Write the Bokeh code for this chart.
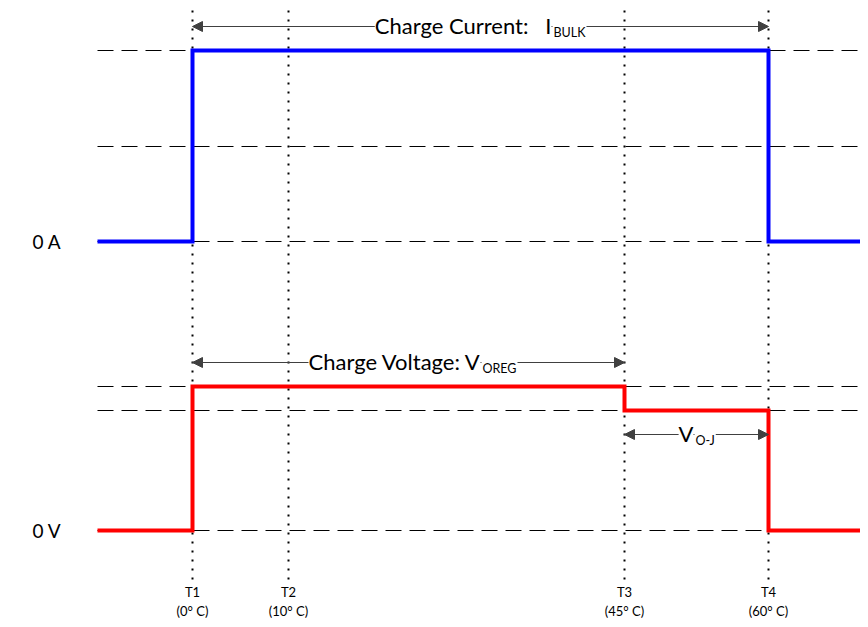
from bokeh.plotting import figure
from bokeh.models import Range1d, Arrow, NormalHead, Label, ColumnDataSource
from bokeh.core.properties import value
from bokeh.embed import file_html
from bokeh.resources import INLINE

# ---- data (x = time position, y = signal level) ----
t_start, t_end = 97, 866
t_marks = [192, 288, 624, 768]          # T1..T4
t_names = ["T1", "T2", "T3", "T4"]
t_temps = ["(0° C)", "(10° C)", "(45° C)", "(60° C)"]

# current levels (smaller = higher on the page)
i_zero, i_mid, i_bulk = 241, 146, 50
# voltage levels
v_zero, v_oj, v_oreg = 530, 410, 386

ref_levels = [i_bulk, i_mid, i_zero, v_oreg, v_oj, v_zero]
ref_x_end = 858

T1, T2, T3, T4 = t_marks
current_x = [t_start, T1, T1, T4, T4, t_end]
current_y = [i_zero, i_zero, i_bulk, i_bulk, i_zero, i_zero]
voltage_x = [t_start, T1, T1, T3, T3, T4, T4, t_end]
voltage_y = [v_zero, v_zero, v_oreg, v_oreg, v_oj, v_oj, v_zero, v_zero]

FONT = "Lato"
W, H = 860, 619
p = figure(width=W, height=H, x_range=Range1d(0, W), y_range=Range1d(H, 0),
           output_backend="svg", toolbar_location=None, min_border=0,
           x_axis_type=None, y_axis_type=None)
p.grid.visible = False
p.outline_line_color = None
p.background_fill_color = "white"
p.border_fill_color = "white"

# dashed reference lines
p.segment(x0=[t_start] * len(ref_levels), y0=ref_levels, x1=[ref_x_end] * len(ref_levels),
          y1=ref_levels, line_color="black", line_width=1, line_dash="16 8")

# dotted time markers
p.segment(x0=t_marks, y0=[10] * 4, x1=t_marks, y1=[580] * 4,
          line_color="black", line_width=2, line_dash="2 7")

# waveforms
p.line(current_x, current_y, line_color="#0000FF", line_width=4, line_join="miter")
p.line(voltage_x, voltage_y, line_color="#FF0000", line_width=4, line_join="miter")

# time labels
src = ColumnDataSource(dict(x=t_marks, n=t_names, t=t_temps))
p.text(x="x", y=591, text="n", source=src, text_align="center", text_baseline="middle",
       text_font=value(FONT), text_font_size="13px", text_color="black")
p.text(x="x", y=610, text="t", source=src, text_align="center", text_baseline="middle",
       text_font=value(FONT), text_font_size="13px", text_color="black")

# left labels
p.text(x=[32, 32], y=[i_zero, v_zero], text=["0 A", "0 V"], text_align="left",
       text_baseline="middle", text_font=value(FONT), text_font_size="19px",
       text_color="black")

# dimension arrows
def harrow(x0, x1, y):
    head = dict(size=10, fill_color="#404040", line_color="#404040")
    p.add_layout(Arrow(start=NormalHead(**head), end=NormalHead(**head),
                       x_start=x0, y_start=y, x_end=x1, y_end=y,
                       line_color="#404040", line_width=1))

harrow(T1, T4, 26)
harrow(T1, T3, 362)
harrow(T3, T4, 434)

NBSP = "\u00a0"

def sublabel(main, sub, x_join, y_base, size=22, sub_size=12.5):
    # subscript first so that the main label's background does not hide the main text
    p.add_layout(Label(x=x_join + 1, y=y_base + 7, text=sub, text_align="left",
                       text_baseline="alphabetic", text_font=FONT,
                       text_font_size=f"{sub_size}px", text_color="black",
                       background_fill_color="white", padding=1))
    p.add_layout(Label(x=x_join, y=y_base, text=main, text_align="right",
                       text_baseline="alphabetic", text_font=FONT,
                       text_font_size=f"{size}px", text_color="black",
                       background_fill_color="white", padding=0))

sublabel("Charge Current:" + NBSP * 3 + "I", "BULK", 551, 25)
sublabel("Charge Voltage:" + NBSP + "V", "OREG", 480, 361)
sublabel("V", "O-J", 693, 433)

open("out.html", "w").write(file_html(p, INLINE))
